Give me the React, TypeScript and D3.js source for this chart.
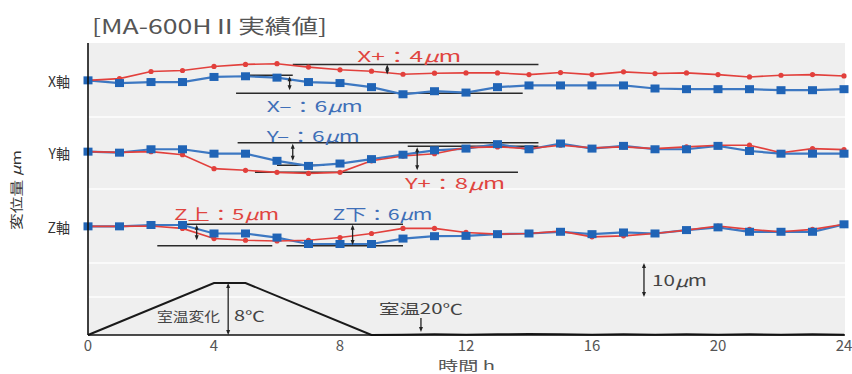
import React from 'react';
import * as d3 from 'd3';

// ---- data ----
const HOURS = [0, 1, 2, 3, 4, 5, 6, 7, 8, 9, 10, 11, 12, 13, 14, 15, 16, 17, 18, 19, 20, 21, 22, 23, 24];
// displacement in µm relative to each axis baseline
const X_PLUS = [0, 0.5, 2.6, 2.9, 4.1, 4.7, 4.9, 3.9, 3.1, 2.7, 1.8, 2.1, 2.2, 2.2, 1.7, 2.3, 1.7, 2.5, 2.0, 2.2, 1.7, 1.0, 1.5, 1.7, 1.3];
const X_MINUS = [0, -0.8, -0.5, -0.5, 1.0, 1.2, 0.8, -0.5, -0.8, -2.0, -4.1, -3.2, -3.6, -2.0, -1.5, -1.5, -1.5, -1.5, -2.4, -2.6, -2.6, -2.6, -2.9, -2.9, -2.6];
const Y_PLUS = [0, -0.2, 0, -0.9, -5.0, -5.5, -6.1, -6.4, -6.1, -2.7, -1.3, -0.6, 1.2, 1.4, 0.9, 1.9, 1.1, 1.4, 0.9, 1.4, 1.9, 1.9, -0.3, 0.9, 0.6];
const Y_MINUS = [0, -0.3, 0.7, 0.7, -0.6, -0.6, -2.7, -4.2, -3.5, -2.2, -0.9, 0.4, 0.9, 2.2, 0.7, 2.4, 0.9, 1.7, 0.7, 0.7, 1.7, 0.2, -0.6, -0.6, -0.6];
const Z_UP = [0, 0, 0.1, -0.6, -3.6, -4.1, -4.3, -4.1, -3.3, -2.1, -0.6, -0.6, -1.8, -2.3, -2.1, -1.4, -3.1, -2.8, -2.1, -1.1, 0.1, -0.9, -1.6, -0.9, 0.6];
const Z_DOWN = [0, 0, 0.4, 0.4, -2.1, -2.1, -3.3, -5.2, -5.2, -5.2, -3.6, -2.9, -2.8, -2.3, -2.1, -1.6, -2.3, -1.8, -2.1, -1.1, -0.3, -1.6, -1.6, -1.6, 0.6];

const AXIS_NAMES = ['X軸', 'Y軸', 'Z軸'];
const AXIS_BASELINES = [75, 54, 32]; // µm on the common displacement scale

const TEMP_HOURS = [0, 4, 5, 9, 10, 11, 12, 13, 14, 15, 16, 17, 18, 19, 20, 21, 22, 23, 24];
const TEMP_VALUES = [0, 8, 8, 0, 0.05, 0.1, 0.05, 0.1, 0.15, 0.1, 0.05, 0.1, 0.05, 0.1, 0.05, 0.1, 0.05, 0.1, 0.05];

const X_TICKS = [0, 4, 8, 12, 16, 20, 24];
const GRID_UM = [11.2, 21.2, 43, 64.2];

const TITLE = '[MA-600HⅡ実績値]';

// reference lines: axis index, hour from, hour to, displacement
const REF_LINES = [
  { axis: 0, h1: 6.5, h2: 14.3, v: 4.7 },
  { axis: 0, h1: 5.1, h2: 6.5, v: 1.5 },
  { axis: 0, h1: 4.7, h2: 13.8, v: -3.8 },
  { axis: 1, h1: 4.75, h2: 14.3, v: 2.6 },
  { axis: 1, h1: 6.0, h2: 7.5, v: -4.0 },
  { axis: 1, h1: 10.15, h2: 14.3, v: 1.6 },
  { axis: 1, h1: 5.3, h2: 13.65, v: -6.1 },
  { axis: 2, h1: 3.0, h2: 10.0, v: 0.65 },
  { axis: 2, h1: 2.2, h2: 5.85, v: -5.7 },
  { axis: 2, h1: 6.3, h2: 10.0, v: -5.7 },
];
const REF_ARROWS = [
  { axis: 0, h: 9.5, v1: 4.7, v2: 1.7 },
  { axis: 0, h: 6.4, v1: 1.2, v2: -2.9 },
  { axis: 1, h: 6.5, v1: 2.3, v2: -2.7 },
  { axis: 1, h: 10.45, v1: 1.3, v2: -5.5 },
  { axis: 2, h: 3.45, v1: 0.5, v2: -4.1 },
  { axis: 2, h: 8.4, v1: 0.5, v2: -5.5 },
];
const REF_LABELS = [
  { axis: 0, h: 10.2, v: 7.4, pre: 'X+：', num: '4', len: 104, color: 'red' },
  { axis: 0, h: 7.2, v: -7.4, pre: 'X–：', num: '6', len: 96, color: 'blue' },
  { axis: 1, h: 7.15, v: 4.9, pre: 'Y–：', num: '6', len: 93, color: 'blue' },
  { axis: 1, h: 11.65, v: -9.1, pre: 'Y+：', num: '8', len: 100, color: 'red' },
  { axis: 2, h: 4.4, v: 3.9, pre: 'Z上：', num: '5', len: 105, color: 'red' },
  { axis: 2, h: 9.35, v: 3.9, pre: 'Z下：', num: '6', len: 100, color: 'blue' },
];

const RED = '#e2403c';
const BLUE = '#2064b6';
const BLUE_LINE = '#3d78c2';
const FONT = '"Noto Sans CJK JP", "Noto Sans", sans-serif';

function VArrow({ x, y1, y2, color = '#222', w = 1.3 }: { x: number; y1: number; y2: number; color?: string; w?: number }) {
  const top = Math.min(y1, y2);
  const bot = Math.max(y1, y2);
  const hs = 3;
  const hl = 5;
  return (
    <g>
      <line x1={x} x2={x} y1={top + 2} y2={bot - 2} stroke={color} strokeWidth={w} />
      <path d={`M${x},${top} L${x - hs / 1.5},${top + hl} L${x + hs / 1.5},${top + hl} Z`} fill={color} />
      <path d={`M${x},${bot} L${x - hs / 1.5},${bot - hl} L${x + hs / 1.5},${bot - hl} Z`} fill={color} />
    </g>
  );
}

export default function App() {
  const W = 852;
  const H = 374;
  const left = 88;
  const right = 845;
  const top = 43;
  const bottom = 335;

  const x = d3.scaleLinear().domain([0, 24]).range([left, 844]);
  const y = d3.scaleLinear().domain([0, 86]).range([bottom, top]);
  const yT = d3.scaleLinear().domain([0, 8]).range([bottom, 283]);

  const pairs: [number[], number[], number][] = [
    [X_PLUS, X_MINUS, 0],
    [Y_PLUS, Y_MINUS, 1],
    [Z_UP, Z_DOWN, 2],
  ];

  const lineGen = (base: number) =>
    d3
      .line<number>()
      .x((_, i) => x(HOURS[i]))
      .y((d) => y(base + d));

  const tempLine = d3
    .line<number>()
    .x((_, i) => x(TEMP_HOURS[i]))
    .y((d) => yT(d));

  const colorOf = (c: string) => (c === 'red' ? '#e0453f' : '#3f6fb8');

  return (
    <svg width={W} height={H} style={{ position: 'absolute', left: 0, top: 0, background: '#fff' }} fontFamily={FONT}>
      <rect x={0} y={0} width={W} height={H} fill="#fff" />
      {/* panel */}
      <rect x={left} y={top} width={right - left} height={bottom - top} fill="#efefef" />
      {GRID_UM.map((g, i) => (
        <line key={i} x1={left} x2={right} y1={y(g)} y2={y(g)} stroke="#fafafa" strokeWidth={2} />
      ))}

      {/* title */}
      <text x={92} y={25} dominantBaseline="central" fontSize={20} fill="#555" textLength={235} lengthAdjust="spacingAndGlyphs">
        {TITLE}
      </text>

      {/* axis names */}
      {AXIS_NAMES.map((n, i) => (
        <text key={n} x={70} y={y(AXIS_BASELINES[i]) + 1} textAnchor="end" dominantBaseline="central" fontSize={14} fill="#333">
          {n}
        </text>
      ))}
      <text
        transform={`translate(15,190) rotate(-90)`}
        textAnchor="middle"
        dominantBaseline="central"
        fontSize={13}
        fill="#333"
        textLength={80}
        lengthAdjust="spacingAndGlyphs"
      >
        変位量 <tspan fontStyle="italic">μ</tspan>m
      </text>

      {/* reference lines */}
      {REF_LINES.map((r, i) => (
        <line
          key={i}
          x1={x(r.h1)}
          x2={x(r.h2)}
          y1={y(AXIS_BASELINES[r.axis] + r.v)}
          y2={y(AXIS_BASELINES[r.axis] + r.v)}
          stroke="#2a2a2a"
          strokeWidth={1.5}
        />
      ))}

      {/* temperature */}
      <path d={tempLine(TEMP_VALUES) || ''} fill="none" stroke="#1a1a1a" strokeWidth={2} />

      {/* series */}
      {pairs.map(([redS, blueS, ai]) => {
        const base = AXIS_BASELINES[ai];
        const lg = lineGen(base);
        return (
          <g key={ai}>
            <path d={lg(blueS) || ''} fill="none" stroke={BLUE_LINE} strokeWidth={2.2} />
            <path d={lg(redS) || ''} fill="none" stroke={RED} strokeWidth={1.6} />
            {redS.map((v, i) => (
              <circle key={'r' + i} cx={x(HOURS[i])} cy={y(base + v)} r={2.6} fill={RED} />
            ))}
            {blueS.map((v, i) => (
              <rect key={'b' + i} x={x(HOURS[i]) - 4.5} y={y(base + v) - 4} width={9} height={8} fill={BLUE} />
            ))}
          </g>
        );
      })}

      {/* arrows */}
      {REF_ARROWS.map((a, i) => (
        <VArrow key={i} x={x(a.h)} y1={y(AXIS_BASELINES[a.axis] + a.v1)} y2={y(AXIS_BASELINES[a.axis] + a.v2)} />
      ))}

      {/* labels */}
      {REF_LABELS.map((l, i) => (
        <text
          key={i}
          x={x(l.h)}
          y={y(AXIS_BASELINES[l.axis] + l.v)}
          textAnchor="middle"
          dominantBaseline="central"
          fontSize={15}
          fill={colorOf(l.color)}
          textLength={l.len}
          lengthAdjust="spacingAndGlyphs"
        >
          {l.pre}
          {l.num}
          <tspan fontStyle="italic">μ</tspan>m
        </text>
      ))}

      {/* 10 µm scale */}
      <VArrow x={x(17.65)} y1={y(GRID_UM[1])} y2={y(GRID_UM[0])} />
      <text x={652} y={y((GRID_UM[0] + GRID_UM[1]) / 2)} dominantBaseline="central" fontSize={15} fill="#444" textLength={55} lengthAdjust="spacingAndGlyphs">
        10<tspan fontStyle="italic">μ</tspan>m
      </text>

      {/* temperature annotations */}
      <VArrow x={x(4.45)} y1={yT(8)} y2={yT(0)} />
      <text x={220} y={315} textAnchor="end" dominantBaseline="central" fontSize={13} fill="#444" textLength={63} lengthAdjust="spacingAndGlyphs">
        室温変化
      </text>
      <text x={234} y={315} dominantBaseline="central" fontSize={14} fill="#444" textLength={31} lengthAdjust="spacingAndGlyphs">
        8℃
      </text>
      <text x={379} y={308} dominantBaseline="central" fontSize={14} fill="#444" textLength={84} lengthAdjust="spacingAndGlyphs">
        室温20℃
      </text>
      <line x1={x(10.57)} x2={x(10.57)} y1={318} y2={328} stroke="#222" strokeWidth={1.3} />
      <path d={`M${x(10.57)},332 L${x(10.57) - 2},327 L${x(10.57) + 2},327 Z`} fill="#222" />

      {/* axes */}
      <line x1={left} x2={left} y1={top} y2={bottom} stroke="#111" strokeWidth={1.6} />
      <line x1={left} x2={right} y1={bottom} y2={bottom} stroke="#111" strokeWidth={1.6} />
      {X_TICKS.map((t) => (
        <text key={t} x={x(t)} y={344} textAnchor="middle" dominantBaseline="central" fontSize={15} fill="#555">
          {t}
        </text>
      ))}
      <text x={438} y={364} dominantBaseline="central" fontSize={13} fill="#555" textLength={57} lengthAdjust="spacingAndGlyphs">
        時間 h
      </text>
    </svg>
  );
}
